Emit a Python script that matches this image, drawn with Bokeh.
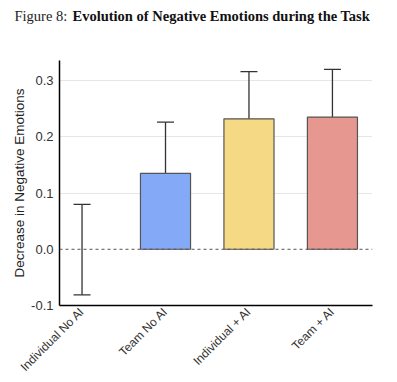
import numpy as np
from bokeh.plotting import figure
from bokeh.layouts import column, row
from bokeh.models import (Range1d, FixedTicker, Span, Whisker, ColumnDataSource,
                          TeeHead, PrintfTickFormatter)
from bokeh.core.properties import value
from bokeh.embed import file_html
from bokeh.resources import INLINE

categories = ["Individual No AI", "Team No AI", "Individual + AI", "Team + AI"]
means = [0.0, 0.135, 0.232, 0.235]
lower = [-0.081, 0.045, 0.150, 0.151]
upper = [0.080, 0.226, 0.316, 0.320]
colors = ["#BBBBBB", "#84A9F6", "#F5D985", "#E6978F"]
y_ticks = [-0.1, 0.0, 0.1, 0.2, 0.3]
title_prefix = "Figure 8:"
title_main = "Evolution of Negative Emotions during the Task"

xs = list(range(len(categories)))
src = ColumnDataSource(dict(x=xs, top=means, lower=lower, upper=upper, color=colors,
                            line=[None if m == 0 else "#555555" for m in means]))

W = 397
TH = 30
H = 382 - TH
BL, BR, BT, BB = 59, 25, 60 - TH, 77

# ---- title strip ----
t = figure(width=W, height=TH, output_backend="svg", toolbar_location=None,
           x_range=Range1d(0, W), y_range=Range1d(TH, 0),
           min_border_left=0, min_border_right=0, min_border_top=0, min_border_bottom=0)
t.axis.visible = False
t.grid.grid_line_color = None
t.outline_line_color = None
t.text(x=[14], y=[15], text=[title_prefix], text_font=value("Liberation Serif"),
       text_font_size="14.5px", text_color="#222222", text_baseline="alphabetic")
t.text(x=[72], y=[15], text=[title_main], text_font=value("Liberation Serif"),
       text_font_style="bold", text_font_size="14.5px", text_color="#111111",
       text_baseline="alphabetic")

# ---- main plot ----
p = figure(width=W, height=H, output_backend="svg", toolbar_location=None,
           x_range=Range1d(-0.27, 3.48), y_range=Range1d(-0.1, 0.3357),
           min_border_left=BL, min_border_right=BR, min_border_top=BT, min_border_bottom=BB)
p.outline_line_color = None
p.background_fill_color = "white"

p.vbar(x="x", top="top", bottom=0, width=0.6, fill_color="color", line_color="line",
       line_width=1.2, fill_alpha=1.0, source=src)

p.add_layout(Span(location=0, dimension="width", line_color="#555555", line_dash="3 3",
                  line_width=1))

w = Whisker(base="x", lower="lower", upper="upper", source=src, line_color="#333333",
            line_width=1.3)
w.upper_head = TeeHead(size=17, line_color="#333333", line_width=1.3)
w.lower_head = TeeHead(size=17, line_color="#333333", line_width=1.3)
p.add_layout(w)

p.xaxis.ticker = FixedTicker(ticks=xs)
p.xaxis.major_label_overrides = {i: c for i, c in enumerate(categories)}
p.xaxis.major_label_orientation = np.pi / 4
p.xaxis.major_tick_line_color = None
p.xaxis.major_tick_out = 0
p.xaxis.major_tick_in = 0
p.xaxis.minor_tick_line_color = None
p.xaxis.axis_line_color = "black"
p.xaxis.axis_line_width = 1.5
p.xaxis.major_label_text_font = "Liberation Sans"
p.xaxis.major_label_text_font_size = "12px"
p.xaxis.major_label_text_color = "#333333"
p.xaxis.major_label_standoff = 4

p.yaxis.ticker = FixedTicker(ticks=y_ticks)
p.yaxis.formatter = PrintfTickFormatter(format="%.1f")
p.yaxis.major_tick_line_color = None
p.yaxis.major_tick_out = 0
p.yaxis.major_tick_in = 0
p.yaxis.minor_tick_line_color = None
p.yaxis.axis_line_color = "black"
p.yaxis.axis_line_width = 1.5
p.yaxis.major_label_text_font = "Liberation Sans"
p.yaxis.major_label_text_font_size = "13px"
p.yaxis.major_label_text_color = "#333333"
p.yaxis.major_label_standoff = 6
p.yaxis.axis_label = "Decrease in Negative Emotions"
p.yaxis.axis_label_text_font = "Liberation Sans"
p.yaxis.axis_label_text_font_style = "normal"
p.yaxis.axis_label_text_font_size = "13.5px"
p.yaxis.axis_label_text_color = "#222222"
p.yaxis.axis_label_standoff = 1

p.xgrid.grid_line_color = None
p.ygrid.ticker = FixedTicker(ticks=[0.1, 0.2, 0.3])
p.ygrid.grid_line_color = "#E6E6E6"
p.ygrid.grid_line_width = 1

layout = column(row(t), row(p), spacing=0)
open("out.html", "w").write(file_html(layout, INLINE))
